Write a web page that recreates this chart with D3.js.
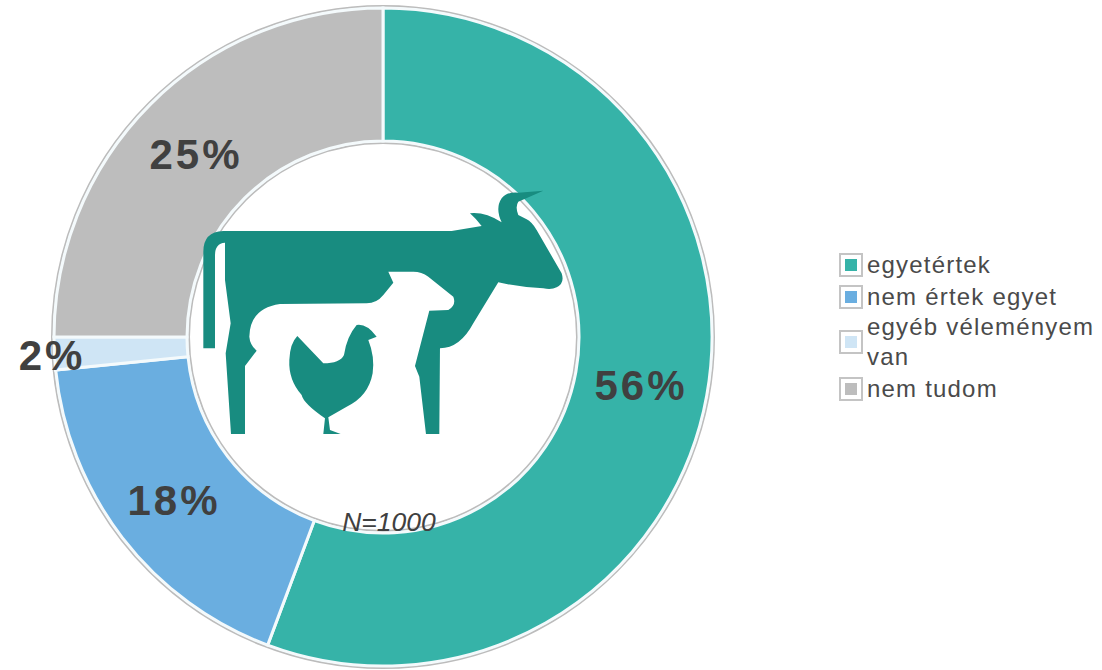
<!DOCTYPE html>
<html>
<head>
<meta charset="utf-8">
<script src="https://cdn.jsdelivr.net/npm/d3@7"></script>
<style>
  html,body{margin:0;padding:0;background:#fff;}
  svg{display:block;}
  text{font-family:"Liberation Sans",Arial,sans-serif;}
</style>
</head>
<body>
<div id="container"></div>
<script>
const categories=['egyetértek','nem értek egyet','egyéb véleményem van','nem tudom'];
const values=[55.7,17.7,1.6,25];
const pctLabels=['56%','18%','2%','25%'];
const colors=['#36b3a8','#6aaee0','#cfe5f5','#bdbdbd'];
const legendLines=[['egyetértek'],['nem értek egyet'],['egyéb véleményem','van'],['nem tudom']];

const width=1102, height=670;
const cx=383, cy=337;
const outer=329, inner=196;

const svg=d3.select('#container').append('svg')
    .attr('width',width)
    .attr('height',height);

const pie=d3.pie().sort(null).value(d=>d)(values);
const arc=d3.arc().innerRadius(inner).outerRadius(outer);

const g=svg.append('g').attr('transform',`translate(${cx},${cy})`);

// thin grey rings round the donut
g.append('circle').attr('r',outer+2).attr('fill','none').attr('stroke','#bcbcbc').attr('stroke-width',2);
g.append('circle').attr('r',inner-2).attr('fill','none').attr('stroke','#bcbcbc').attr('stroke-width',2);

g.selectAll('path.slice')
  .data(pie)
  .enter()
  .append('path')
  .attr('class','slice')
  .attr('d',arc)
  .attr('fill',(d,i)=>colors[i])
  .attr('stroke','#f4fafc')
  .attr('stroke-width',3);

// labels sit a bit off the arc centre in the original
const labelPos=[[641,385],[174,500],[52,355],[196,154]];
svg.selectAll('text.pct')
  .data(pctLabels)
  .enter()
  .append('text')
  .attr('class','pct')
  .attr('x',(d,i)=>labelPos[i][0])
  .attr('y',(d,i)=>labelPos[i][1])
  .attr('dy','0.36em')
  .attr('text-anchor','middle')
  .attr('font-size',42)
  .attr('font-weight','bold')
  .attr('letter-spacing',3)
  .attr('fill','#404040')
  .text(d=>d);

// cow + chicken icon
const icon=svg.append('g').attr('transform','translate(190,180) scale(0.3333)').attr('fill','#188c80');
icon.append('path').attr('d','M40 505 L40 215 Q40 155 100 153 L785 153 L875 138 Q860 118 840 100 Q885 95 935 127 Q915 85 935 55 Q950 35 985 38 L1060 32 L985 65 Q975 80 985 105 L1010 118 Q1025 125 1040 150 L1115 280 Q1125 310 1100 322 Q1085 330 1060 325 Q990 322 925 307 L850 430 Q810 505 750 505 L748 762 L708 762 L688 590 L675 558 L718 392 L775 390 Q800 375 790 350 L715 290 Q695 275 670 275 L595 275 L610 308 L580 345 Q560 370 530 370 L270 372 Q180 385 178 470 Q180 495 200 512 L165 558 L165 762 L123 762 L107 520 L122 430 L105 300 L105 188 Q75 190 75 225 L75 505 Z');
icon.append('path').attr('d','M322 468 L400 550 Q450 550 462 525 Q470 470 500 435 Q530 430 560 470 L535 480 Q555 530 548 580 Q535 650 470 680 L415 712 L420 750 L452 762 L400 762 L405 715 Q340 670 335 645 Q295 600 298 540 Q300 490 322 468 Z');

svg.append('text')
  .attr('x',389).attr('y',531)
  .attr('text-anchor','middle')
  .attr('font-size',26.5)
  .attr('font-style','italic')
  .attr('fill','#404040')
  .text('N=1000');

// legend
const legendY=[265,297,342,389];
const leg=svg.selectAll('g.leg')
  .data(categories)
  .enter()
  .append('g')
  .attr('class','leg')
  .attr('transform',(d,i)=>`translate(840,${legendY[i]})`);

leg.append('rect')
  .attr('x',0).attr('y',-11)
  .attr('width',22).attr('height',22)
  .attr('fill','#fff')
  .attr('stroke','#c4c4c4')
  .attr('stroke-width',2);
leg.append('rect')
  .attr('x',5).attr('y',-6)
  .attr('width',12).attr('height',12)
  .attr('fill',(d,i)=>colors[i]);
leg.each(function(d,i){
  const lines=legendLines[i];
  d3.select(this).selectAll('text')
    .data(lines)
    .enter()
    .append('text')
    .attr('x',27)
    .attr('y',(l,j)=>8+(j-(lines.length-1)/2)*30)
    .attr('font-size',24)
    .attr('letter-spacing',1.2)
    .attr('fill','#4a4a4a')
    .text(l=>l);
});
</script>
</body>
</html>
